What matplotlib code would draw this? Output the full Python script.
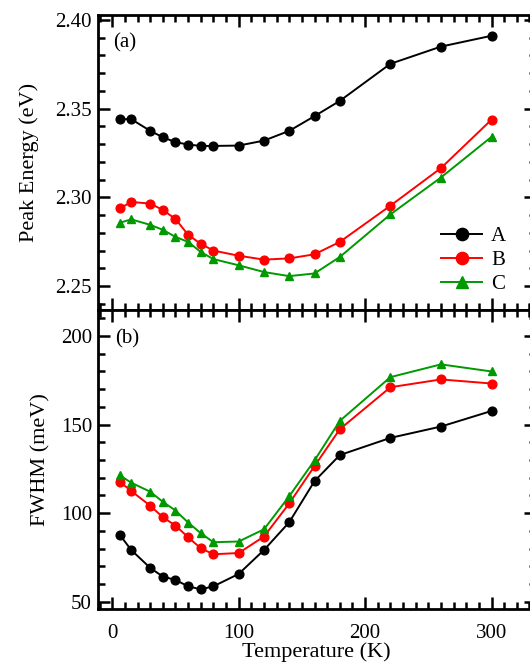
import matplotlib
matplotlib.use("Agg")
import matplotlib.pyplot as plt
from matplotlib.ticker import MultipleLocator

plt.rcParams["font.family"] = ["Liberation Serif", "DejaVu Serif"]

# Temperature points (K)
temps = [6, 15, 30, 40, 50, 60, 70, 80, 100, 120, 140, 160, 180, 220, 260, 300]

# (a) peak energy (eV)
peak_a = [2.3441, 2.3441, 2.3375, 2.3339, 2.3311, 2.3298, 2.3290, 2.3290,
          2.3292, 2.3320, 2.3375, 2.3458, 2.3544, 2.3753, 2.3850, 2.3911]
peak_b = [2.2938, 2.2974, 2.2965, 2.2929, 2.2878, 2.2789, 2.2738, 2.2700,
          2.2671, 2.2649, 2.2656, 2.2679, 2.2749, 2.2953, 2.3165, 2.3438]
peak_c = [2.2857, 2.2876, 2.2845, 2.2817, 2.2777, 2.2749, 2.2692, 2.2652,
          2.2617, 2.2579, 2.2556, 2.2571, 2.2664, 2.2904, 2.3112, 2.3341]

# (b) FWHM (meV)
fwhm_a = [87.7, 79.2, 69.1, 64.2, 62.3, 58.7, 57.0, 58.7,
          65.7, 79.2, 94.9, 118.1, 132.8, 142.5, 148.9, 157.7]
fwhm_b = [117.7, 112.5, 104.2, 97.7, 93.0, 86.4, 80.2, 76.8,
          77.5, 86.8, 105.5, 126.6, 147.4, 171.1, 175.5, 173.2]
fwhm_c = [121.3, 117.2, 112.1, 106.4, 101.5, 94.7, 88.7, 83.6,
          84.0, 90.9, 109.6, 129.8, 152.1, 176.8, 184.0, 180.0]

labels = ["A", "B", "C"]
colors = ["black", "red", "#009900"]
markers = ["o", "o", "^"]

fig = plt.figure(figsize=(5.3, 6.64), dpi=100)
W, H = 530, 664
left, right = 97.5, 536
ax1 = fig.add_axes([left / W, 1 - 310 / H, (right - left) / W, (310 - 14.5) / H])
ax2 = fig.add_axes([left / W, 1 - 609 / H, (right - left) / W, (609 - 310) / H])

#------------------------------------------------------------------
# (a) Peak energy
for y, lab, c, m in zip([peak_a, peak_b, peak_c], labels, colors, markers):
    ax1.plot(temps, y, color=c, marker=m, markersize=6.3, linewidth=1.4, label=lab)

ax1.set_ylim(2.2365, 2.4031)
ax1.yaxis.set_major_locator(MultipleLocator(0.05))
ax1.yaxis.set_minor_locator(MultipleLocator(0.01))
ax1.set_ylabel("Peak Energy (eV)", fontsize=16, labelpad=12)
ax1.text(0.035, 0.905, "(a)", transform=ax1.transAxes, fontsize=15, va="center")
ax1.tick_params(axis="x", which="both", labelbottom=False)
ax1.legend(loc="upper left", bbox_to_anchor=(0.765, 0.31), frameon=False,
           fontsize=15, handlelength=1.95, handletextpad=0.45, labelspacing=0.2,
           markerscale=1.4, borderaxespad=0)

#------------------------------------------------------------------
# (b) FWHM
for y, lab, c, m in zip([fwhm_a, fwhm_b, fwhm_c], labels, colors, markers):
    ax2.plot(temps, y, color=c, marker=m, markersize=6.3, linewidth=1.4, label=lab)

ax2.set_ylim(45.9, 214.7)
ax2.yaxis.set_major_locator(MultipleLocator(50))
ax2.yaxis.set_minor_locator(MultipleLocator(10))
ax2.set_ylabel("FWHM (meV)", fontsize=16, labelpad=7)
ax2.set_xlabel("Temperature (K)", fontsize=16, labelpad=-1)
ax2.text(0.04, 0.905, "(b)", transform=ax2.transAxes, fontsize=15, va="center")

for ax in (ax1, ax2):
    ax.set_xlim(-11.7, 335.2)
    ax.xaxis.set_major_locator(MultipleLocator(100))
    ax.xaxis.set_minor_locator(MultipleLocator(10))
    ax.tick_params(which="both", direction="in", top=True, right=True,
                   width=1.8, labelsize=15)
    ax.tick_params(which="major", length=8.5)
    ax.tick_params(which="minor", length=5)
    ax.tick_params(axis="x", pad=11)
    ax.tick_params(axis="y", pad=4)
    for s in ax.spines.values():
        s.set_linewidth(2)

fig.savefig("out.png", dpi=100)
